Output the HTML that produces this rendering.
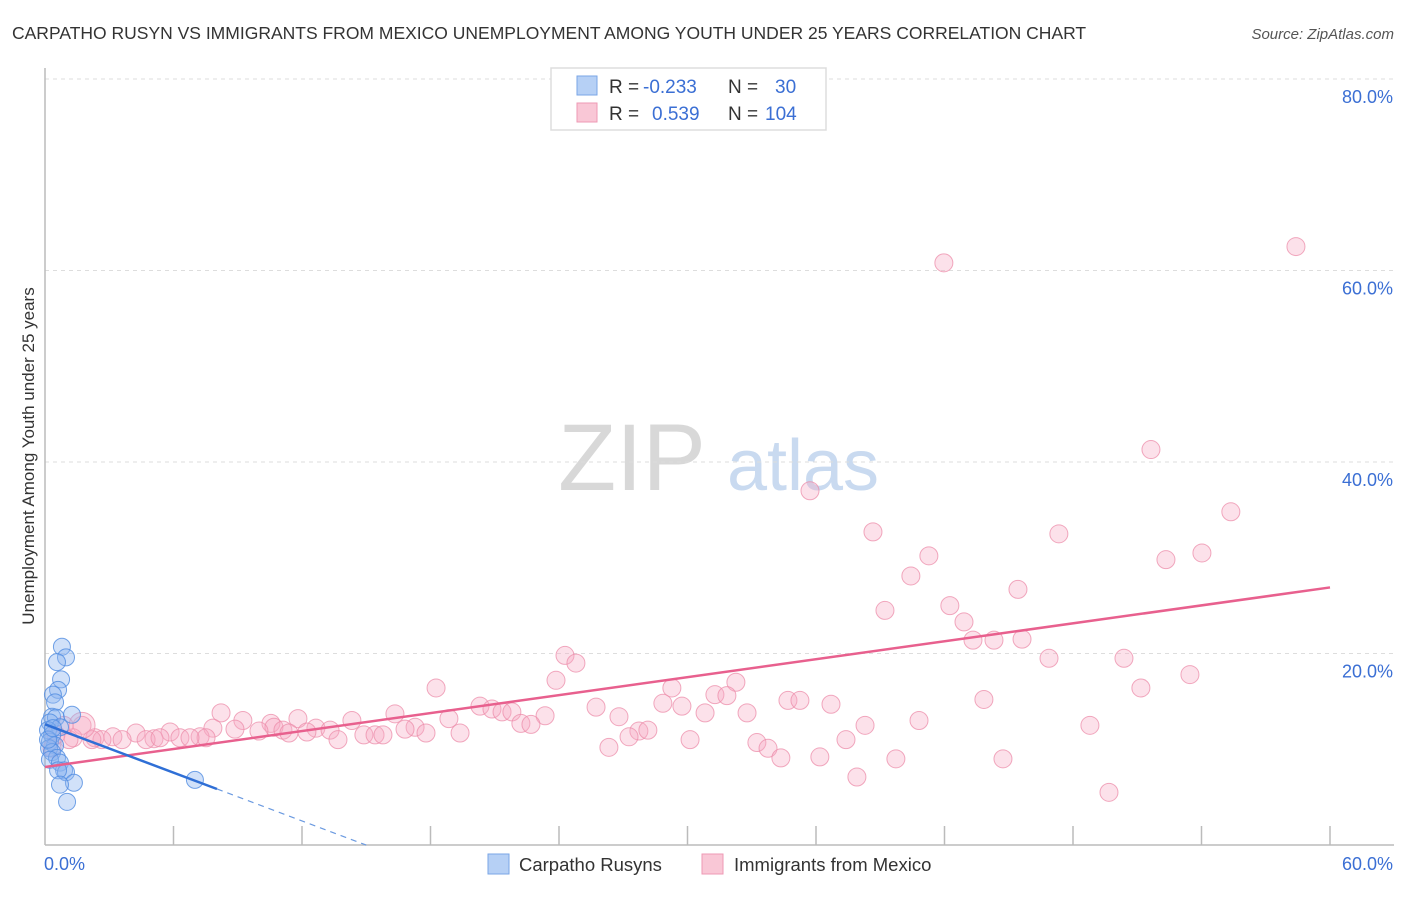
<!DOCTYPE html>
<html><head><meta charset="utf-8"><style>
body{margin:0;background:#fff;font-family:"Liberation Sans",sans-serif;}
svg text{font-family:"Liberation Sans",sans-serif;}
</style></head><body>
<svg id="chart" width="1406" height="892" viewBox="0 0 1406 892" xmlns="http://www.w3.org/2000/svg">
<text x="12" y="39" font-size="17.5" fill="#333">CARPATHO RUSYN VS IMMIGRANTS FROM MEXICO UNEMPLOYMENT AMONG YOUTH UNDER 25 YEARS CORRELATION CHART</text>
<text x="1394" y="39" font-size="15" fill="#555" font-style="italic" text-anchor="end">Source: ZipAtlas.com</text>
<g>
<text x="632" y="490" font-size="95" fill="#d8d8d8" font-family="Liberation Serif,serif" text-anchor="middle">ZIP</text>
<text x="803" y="490" font-size="72" fill="#c9daf0" text-anchor="middle">atlas</text>
</g>
<g id="grid"></g>
<g id="axes"></g>
<g id="pts-pink"></g>
<g id="pts-blue"></g>
<g id="trends"></g>
<text transform="translate(34,456) rotate(-90)" font-size="17" fill="#333" text-anchor="middle">Unemployment Among Youth under 25 years</text>
<g>
<rect x="551" y="68" width="275" height="62" fill="#fff" stroke="#ddd" stroke-width="1.5"/>
<rect x="577" y="76" width="20" height="19" fill="#b6d0f5" stroke="#7aa6e6"/>
<rect x="577" y="103" width="20" height="19" fill="#f9c7d6" stroke="#ee9ab4"/>
<text x="609" y="93" font-size="19" fill="#333">R =</text>
<text x="643" y="93" font-size="19" fill="#3b6fd4">-0.233</text>
<text x="728" y="93" font-size="19" fill="#333">N =</text>
<text x="775" y="93" font-size="19" fill="#3b6fd4">30</text>
<text x="609" y="120" font-size="19" fill="#333">R =</text>
<text x="652" y="120" font-size="19" fill="#3b6fd4">0.539</text>
<text x="728" y="120" font-size="19" fill="#333">N =</text>
<text x="765" y="120" font-size="19" fill="#3b6fd4">104</text>
</g>
<g>
<rect x="488" y="854" width="21" height="20" fill="#b6d0f5" stroke="#7aa6e6"/>
<text x="519" y="871" font-size="18.5" fill="#333">Carpatho Rusyns</text>
<rect x="702" y="854" width="21" height="20" fill="#f9c7d6" stroke="#ee9ab4"/>
<text x="734" y="871" font-size="18.5" fill="#333">Immigrants from Mexico</text>
</g>
</svg>
<script>
const yTicks=[20,40,60,80];
const yTickLabels=["20.0%","40.0%","60.0%","80.0%"];
const xTickLabels=["0.0%","60.0%"];
const blueX=[0.79,0.98,0.56,0.75,0.61,0.37,0.47,0.33,0.51,1.26,0.23,0.70,0.14,0.33,0.23,0.47,0.19,0.33,0.56,0.23,0.70,0.89,0.98,0.61,1.35,0.70,1.03,7.0,0.14,0.37];
const blueY=[20.7,19.6,19.1,17.3,16.2,15.7,14.9,13.4,13.3,13.6,12.8,12.3,12.0,11.5,10.8,10.4,10.1,9.7,9.1,8.9,8.6,7.8,7.6,7.8,6.5,6.3,4.5,6.8,11.0,12.2];
const pinkX=[41.97,58.41,51.64,35.72,55.37,38.66,47.34,41.27,54.02,52.34,40.43,45.43,39.22,42.25,42.91,43.33,44.31,45.62,46.88,50.38,24.28,24.79,23.86,18.26,29.27,32.26,31.28,31.84,51.17,53.46,34.69,35.25,36.70,43.84,28.85,29.74,25.73,20.31,20.87,21.34,21.80,23.35,16.34,8.22,18.86,26.80,30.82,32.78,40.81,48.79,38.29,11.81,9.24,14.33,10.55,10.69,11.11,7.84,8.87,12.65,13.31,12.23,9.99,11.39,5.84,4.25,1.73,7.24,6.30,5.09,3.17,2.33,2.66,3.60,4.72,7.52,6.77,5.37,1.31,17.28,16.81,17.79,14.89,15.41,19.38,15.78,22.22,22.69,27.73,28.15,27.27,30.12,13.68,26.33,33.24,33.76,34.36,36.18,37.40,37.91,39.73,44.73,49.68,0.89,0.51,0.33,2.19,1.12];
const pinkY=[60.8,62.5,41.3,37.0,34.8,32.7,32.5,30.2,30.5,29.8,28.1,26.7,24.5,25.0,23.3,21.4,21.4,21.5,19.5,19.5,19.8,19.0,17.2,16.4,16.4,17.0,15.7,15.6,16.4,17.8,15.1,15.1,14.7,15.2,14.8,14.5,14.4,14.5,14.2,13.9,13.9,13.5,13.7,13.8,13.2,13.4,13.8,13.8,13.0,12.5,12.5,13.2,13.0,13.0,12.7,12.3,12.0,12.2,12.1,12.2,12.0,11.8,11.9,11.7,11.8,11.7,12.5,11.3,11.2,11.1,11.3,11.2,11.0,11.0,11.0,11.2,11.2,11.2,11.2,12.3,12.1,11.7,11.5,11.5,11.7,11.5,12.7,12.6,11.9,12.0,11.3,11.0,11.0,10.2,10.7,10.1,9.1,9.2,11.0,7.1,9.0,9.0,5.5,12.5,11.5,10.1,11.0,11.0];
const pinkTrend=[8.15,26.9];
const blueTrend=[12.6,5.85];
const blueSolidEnd=8.03, blueDashEnd=15.0;

const NS="http://www.w3.org/2000/svg";
const X0=45,X1=1330,Y0=845,YPER=191.5/20;
function sx(v){return X0+(v/60)*(X1-X0);}
function sy(v){return Y0-v*YPER;}
function mk(tag,attrs,parent){const e=document.createElementNS(NS,tag);for(const k in attrs)e.setAttribute(k,attrs[k]);parent.appendChild(e);return e;}
const grid=document.getElementById('grid'),axes=document.getElementById('axes');
yTicks.forEach((t,i)=>{
  const l=mk('line',{x1:X0,x2:1394,y1:sy(t),y2:sy(t),stroke:'#ddd','stroke-dasharray':'4,4'},grid);
  
  
  const tx=mk('text',{x:1393,y:sy(t)+24,'font-size':18,fill:'#3b6fd4','text-anchor':'end'},axes);
  tx.textContent=yTickLabels[i];
  
  
});
mk('line',{x1:X0,x2:X0,y1:68,y2:Y0,stroke:'#bbb','stroke-width':1.5},axes);
mk('line',{x1:X0,x2:1394,y1:Y0,y2:Y0,stroke:'#bbb','stroke-width':1.5},axes);
for(let i=1;i<=10;i++){
  const t=mk('line',{x1:sx(i*6),x2:sx(i*6),y1:826,y2:Y0,stroke:'#bbb','stroke-width':1.5},axes);
  
  
}
const xl0=mk('text',{x:44,y:870,'font-size':18,fill:'#3b6fd4'},axes);xl0.textContent=xTickLabels[0];


const xl1=mk('text',{x:1393,y:870,'font-size':18,fill:'#3b6fd4','text-anchor':'end'},axes);xl1.textContent=xTickLabels[1];


const gp=document.getElementById('pts-pink');
pinkX.forEach((v,i)=>{
  const c=mk('circle',{cx:sx(v),cy:sy(pinkY[i]),r:9,fill:'rgba(246,170,195,0.35)',stroke:'rgba(236,140,170,0.75)','stroke-width':1},gp);
  
  
});
const big=mk('circle',{cx:sx(1.73),cy:sy(12.5),r:13,fill:'rgba(246,170,195,0.35)',stroke:'rgba(236,140,170,0.75)'},gp);


const gb=document.getElementById('pts-blue');
blueX.forEach((v,i)=>{
  const c=mk('circle',{cx:sx(v),cy:sy(blueY[i]),r:8.5,fill:'rgba(140,180,240,0.4)',stroke:'rgba(80,140,225,0.8)','stroke-width':1},gb);
  
  
});
const tr=document.getElementById('trends');
const pl=mk('line',{x1:sx(0),y1:sy(pinkTrend[0]),x2:sx(60),y2:sy(pinkTrend[1]),stroke:'#e8608e','stroke-width':2.5},tr);


const bslope=(blueTrend[1]-blueTrend[0])/blueSolidEnd;
const bl=mk('line',{x1:sx(0),y1:sy(blueTrend[0]),x2:sx(blueSolidEnd),y2:sy(blueTrend[1]),stroke:'#2f6fd6','stroke-width':2.5},tr);


const bd=mk('line',{x1:sx(blueSolidEnd),y1:sy(blueTrend[1]),x2:sx(blueDashEnd),y2:sy(blueTrend[0]+bslope*blueDashEnd),stroke:'#6b9ae0','stroke-width':1.2,'stroke-dasharray':'6,5'},tr);


</script>
</body></html>
